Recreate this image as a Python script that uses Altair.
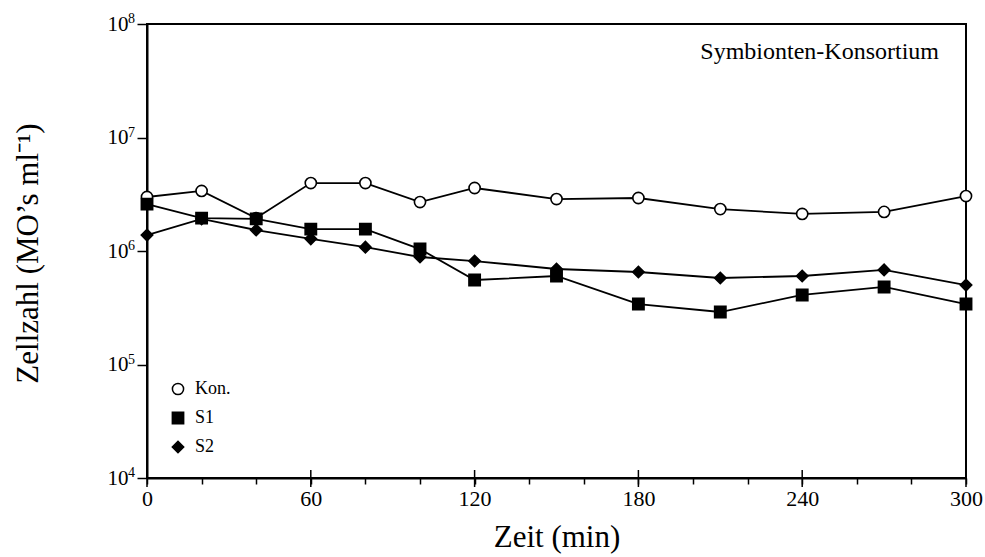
import altair as alt
import pandas as pd

# ---- data ----
time_min = [0, 20, 40, 60, 80, 100, 120, 150, 180, 210, 240, 270, 300]
kon = [2.99e6, 3.38e6, 1.95e6, 3.97e6, 3.97e6, 2.70e6, 3.59e6, 2.87e6, 2.93e6, 2.34e6, 2.12e6, 2.21e6, 3.05e6]
s1 = [2.59e6, 1.95e6, 1.92e6, 1.56e6, 1.56e6, 1.04e6, 5.55e5, 6.02e5, 3.41e5, 2.90e5, 4.10e5, 4.82e5, 3.41e5]
s2 = [1.38e6, 1.92e6, 1.53e6, 1.28e6, 1.08e6, 8.85e5, 8.16e5, 6.94e5, 6.53e5, 5.78e5, 6.02e5, 6.81e5, 5.01e5]
series_names = ["Kon.", "S1", "S2"]
x_ticks_all = list(range(0, 301, 20))
x_ticks_major = [0, 60, 120, 180, 240, 300]
y_exponents = [4, 5, 6, 7, 8]
y_ticks = [10.0 ** e for e in y_exponents]
annotation = "Symbionten-Konsortium"

FONT = "Liberation Serif"

rows = []
for name, vals in zip(series_names, [kon, s1, s2]):
    for t, v in zip(time_min, vals):
        rows.append({"Zeit": t, "Zellzahl": v, "Serie": name})
df = pd.DataFrame(rows)

x_scale = alt.Scale(domain=[0, 300], nice=False, zero=False)
y_scale = alt.Scale(type="log", domain=[1e4, 1e8], nice=False)

x_enc = alt.X(
    "Zeit:Q", scale=x_scale,
    axis=alt.Axis(
        values=x_ticks_all, tickSize=6, tickWidth=1.5, tickColor="black",
        labelExpr="datum.value % 60 == 0 ? datum.label : ''",
        labelFontSize=22, labelFont=FONT, labelColor="black", labelPadding=4,
        title="Zeit (min)", titleFontSize=31, titleFont=FONT, titleFontWeight="normal",
        titleColor="black", titleY=68, titleBaseline="alphabetic",
        domainColor="black", domainWidth=2, grid=False, labelFlush=False,
    ),
)
y_enc = alt.Y(
    "Zellzahl:Q", scale=y_scale,
    axis=alt.Axis(
        values=y_ticks, tickSize=10, tickWidth=1.5, tickColor="black",
        labelExpr="'10'",
        labelFontSize=21, labelFont=FONT, labelColor="black", labelPadding=9,
        title="Zellzahl (MO’s ml⁻¹)", titleFontSize=31, titleFont=FONT,
        titleFontWeight="normal", titleColor="black",
        titleX=-110, titleY=229, titleAngle=-90, titleBaseline="alphabetic", titleAlign="center",
        domainColor="black", domainWidth=2, grid=False,
    ),
)

lines = alt.Chart(df).mark_line(color="black", strokeWidth=1.8).encode(
    x=x_enc, y=y_enc, detail="Serie:N"
)

legend_cfg = dict(title=None, orient="none", legendX=22, legendY=356,
                  labelFont=FONT, labelFontSize=18, labelColor="black",
                  rowPadding=11, symbolStrokeWidth=1.5, labelOffset=8)

points = alt.Chart(df).mark_point(filled=True, strokeWidth=1.6, opacity=1).encode(
    x="Zeit:Q",
    y="Zellzahl:Q",
    shape=alt.Shape("Serie:N", scale=alt.Scale(domain=series_names, range=["circle", "square", "diamond"]),
                    legend=alt.Legend(**legend_cfg)),
    fill=alt.Fill("Serie:N", scale=alt.Scale(domain=series_names, range=["white", "black", "black"]),
                  legend=alt.Legend(**legend_cfg)),
    stroke=alt.Stroke("Serie:N", scale=alt.Scale(domain=series_names, range=["black", "black", "black"]),
                      legend=alt.Legend(**legend_cfg)),
    size=alt.Size("Serie:N", scale=alt.Scale(domain=series_names, range=[125, 130, 230]),
                  legend=alt.Legend(**legend_cfg)),
)

# superscript exponents of the y tick labels (10^e)
exp_df = pd.DataFrame({"Zellzahl": y_ticks, "exp": [str(e) for e in y_exponents]})
exponents = alt.Chart(exp_df).mark_text(
    font=FONT, fontSize=14, align="left", baseline="alphabetic", color="black", dy=-1
).encode(x=alt.value(-19), y="Zellzahl:Q", text="exp:N")

major_df = pd.DataFrame({"Zeit": x_ticks_major})
major_ticks = alt.Chart(major_df).mark_rule(color="black", strokeWidth=1.5, clip=False).encode(
    x="Zeit:Q", y=alt.value(446), y2=alt.value(463)
)

label_df = pd.DataFrame({"text": [annotation]})
label = alt.Chart(label_df).mark_text(
    font=FONT, fontSize=24, align="right", baseline="alphabetic", color="black"
).encode(x=alt.value(792), y=alt.value(35), text="text:N")

chart = alt.layer(lines, points, exponents, major_ticks, label).properties(
    width=819, height=454,
    autosize=alt.AutoSizeParams(type="none"),
    padding={"left": 147, "top": 24, "right": 19, "bottom": 79},
    background="white",
).configure_view(stroke="black", strokeWidth=2)

chart.save("out.html", embed_options={"renderer": "svg", "actions": False})
